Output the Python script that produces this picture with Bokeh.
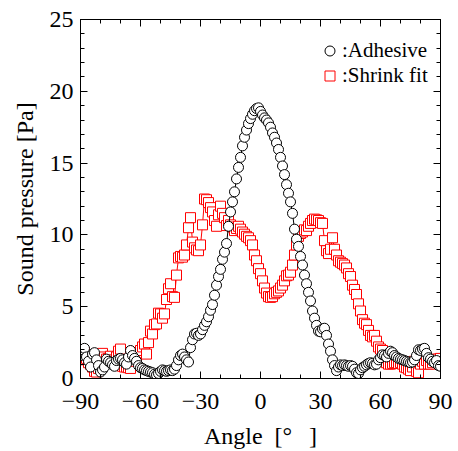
from bokeh.plotting import figure
from bokeh.models import FixedTicker, Legend, LegendItem, Range1d, LinearAxis, ColumnDataSource
from bokeh.embed import file_html
from bokeh.resources import INLINE

angles = list(range(-90, 91))

adhesive = [
    1.6, 2.0, 2.1, 1.5, 1.2, 0.8, 1.7, 1.8, 1.3, 0.9,      # -90..-81
    0.45, 0.6, 0.8, 1.35, 1.2, 1.1, 0.95, 0.85, 1.25, 1.35,  # -80..-71
    1.4, 1.3, 1.1, 1.0, 1.5, 1.95, 1.6, 1.4, 1.2, 0.9,     # -70..-61
    0.75, 0.7, 0.6, 0.55, 0.5, 0.45, 0.4, 0.3, 0.25, 0.35,  # -60..-51
    0.5, 0.6, 0.55, 0.5, 0.55, 0.6, 0.55, 0.65, 0.9, 1.3,   # -50..-41
    1.6, 1.7, 1.5, 1.3, 1.15, 2.15, 2.7, 3.1, 3.15, 3.0,    # -40..-31
    3.1, 3.4, 3.7, 3.95, 4.3, 4.75, 5.15, 5.8, 6.5, 7.1,    # -30..-21
    7.6, 8.3, 8.8, 9.4, 10.6, 11.6, 12.3, 13.0, 13.9, 14.7,  # -20..-11
    15.4, 16.2, 16.8, 17.3, 17.75, 18.1, 18.4, 18.65, 18.8, 18.85,  # -10..-1
    18.6,                                                  # 0
    18.35, 18.15, 18.0, 17.8, 17.5, 17.1, 16.8, 16.4, 15.95, 15.4,  # 1..10
    14.8, 14.2, 13.5, 12.9, 12.3, 11.5, 10.4, 9.7, 9.2, 8.5,  # 11..20
    7.9, 7.2, 6.6, 6.0, 5.4, 4.7, 4.2, 3.7, 3.3, 3.25,       # 21..30
    3.45, 3.5, 3.0, 2.4, 1.9, 1.3, 0.9, 0.55, 0.8, 0.95,     # 31..40
    0.9, 0.95, 0.9, 0.85, 0.9, 0.85, 0.65, 0.4, 0.35, 0.6,   # 41..50
    0.75, 0.85, 0.95, 1.05, 1.1, 1.05, 0.95, 1.0, 1.3, 1.45,  # 51..60
    1.65, 1.6, 1.5, 1.75, 1.9, 1.8, 1.6, 1.5, 1.4, 1.35,     # 61..70
    1.3, 1.25, 1.2, 1.15, 1.1, 1.15, 1.3, 1.6, 2.0, 1.95,    # 71..80
    2.05, 2.1, 1.75, 1.45, 1.35, 1.2, 1.1, 1.25, 0.9, 0.85,  # 81..90
]

shrink_fit = [
    2.0, 1.3, 1.8, 1.4, 1.1, 1.0, 0.8, 0.5, 0.45, 0.7,      # -90..-81
    1.2, 1.75, 1.5, 1.35, 1.4, 1.55, 1.3, 1.1, 1.5, 1.9,    # -80..-71
    2.05, 0.85, 0.8, 0.8, 0.75, 0.7, 1.2, 1.5, 1.6, 1.8,    # -70..-61
    1.95, 2.2, 2.4, 1.7, 2.5, 3.3, 3.1, 3.75, 3.8, 4.55,    # -60..-51
    4.5, 4.2, 4.5, 5.5, 6.25, 6.6, 5.7, 5.65, 7.2, 8.4,     # -50..-41
    8.5, 8.45, 8.6, 9.3, 10.5, 11.2, 9.5, 9.1, 8.95, 8.9,   # -40..-31
    9.3, 10.7, 12.5, 12.45, 12.25, 11.9, 11.6, 11.0, 10.6, 11.4,  # -30..-21
    12.0, 11.5, 11.2, 10.65, 11.0, 10.7, 10.55, 10.3, 10.45, 10.6,  # -20..-11
    10.4, 10.2, 10.05, 9.9, 9.8, 9.6, 9.3, 8.6, 8.2, 7.65,  # -10..-1
    7.3,                                                   # 0
    6.8, 6.3, 5.95, 5.7, 5.65, 5.7, 5.9, 6.0, 6.1, 6.3,     # 1..10
    6.5, 6.8, 7.15, 7.2, 7.4, 7.9, 8.6, 9.3, 9.9, 10.1,     # 11..20
    10.2, 10.35, 10.3, 10.6, 10.8, 11.0, 11.1, 11.05, 11.0, 10.85,  # 21..30
    10.8, 9.6, 8.9, 8.7, 9.0, 9.8, 9.0, 8.6, 8.2, 8.1,      # 31..40
    8.0, 7.9, 7.7, 7.3, 7.1, 6.5, 6.2, 5.85, 5.2, 4.7,      # 41..50
    4.1, 3.85, 3.75, 3.35, 3.0, 2.9, 3.0, 2.6, 2.2, 2.05,   # 51..60
    1.95, 1.6, 1.1, 1.0, 1.0, 1.05, 1.1, 1.1, 1.05, 1.1,    # 61..70
    1.0, 0.8, 0.75, 0.65, 0.55, 0.8, 1.2, 0.5, 0.4, 1.0,    # 71..80
    1.2, 1.0, 1.25, 1.0, 1.0, 1.1, 1.35, 1.3, 1.35, 1.4,    # 81..90
]

x_ticks = [-90, -60, -30, 0, 30, 60, 90]
x_tick_labels = ["\u221290", "\u221260", "\u221230", "0", "30", "60", "90"]
x_minor = list(range(-90, 91, 10))
y_ticks = [0, 5, 10, 15, 20, 25]
y_tick_labels = ["0", "5", "10", "15", "20", "25"]
y_minor = list(range(0, 26, 1))

FONT = "Liberation Serif"

p = figure(width=458, height=451, output_backend="svg", toolbar_location=None,
           x_range=Range1d(-90, 90), y_range=Range1d(0, 25),
           min_border_left=80, min_border_right=18, min_border_top=19, min_border_bottom=73,
           x_axis_label="Angle\u2002[\u00b0\u2002\u2009]", y_axis_label="Sound pressure [Pa]")
p.xgrid.visible = False
p.ygrid.visible = False
p.outline_line_color = "black"
p.background_fill_color = "white"
p.border_fill_color = "white"

src = ColumnDataSource(dict(angle=angles, adhesive=adhesive, shrink=shrink_fit))

p.line("angle", "shrink", source=src, line_color="red", line_width=1)
r_s = p.scatter("angle", "shrink", source=src, marker="square", size=10,
                line_color="red", fill_color="white", line_width=1)
p.line("angle", "adhesive", source=src, line_color="black", line_width=1)
r_a = p.scatter("angle", "adhesive", source=src, marker="circle", size=10,
                line_color="black", fill_color="white", line_width=1)


def base_style(ax):
    ax.axis_line_color = "black"
    ax.axis_line_width = 1
    ax.major_tick_line_color = "black"
    ax.minor_tick_line_color = "black"
    ax.major_tick_out = 0
    ax.minor_tick_out = 0
    ax.major_label_text_font = FONT
    ax.major_label_text_color = "black"
    ax.major_label_text_font_size = "24px"
    ax.axis_label_text_font = FONT
    ax.axis_label_text_font_style = "normal"
    ax.axis_label_text_color = "black"
    ax.axis_label_text_font_size = "24px"


def labelled_axis(ax, ticks, minor, labels):
    base_style(ax)
    ax.ticker = FixedTicker(ticks=ticks, minor_ticks=minor)
    ax.major_tick_in = 7
    ax.minor_tick_in = 4
    ax.major_label_overrides = dict(zip(ticks, labels))


def mirror_axes(ticks, minor, side):
    # ticks only, no labels: short marks as minor ticks, long marks on a second axis
    short = LinearAxis(ticker=FixedTicker(ticks=[], minor_ticks=[m for m in minor if m not in ticks]))
    long_ = LinearAxis(ticker=FixedTicker(ticks=[], minor_ticks=ticks))
    for ax, ln in ((short, 4), (long_, 7)):
        base_style(ax)
        ax.minor_tick_in = ln
        ax.major_tick_in = 0
        ax.major_label_standoff = 0
        ax.axis_label_standoff = 0
        p.add_layout(ax, side)


xa = p.xaxis[0]
ya = p.yaxis[0]
labelled_axis(xa, x_ticks, x_minor, x_tick_labels)
labelled_axis(ya, y_ticks, y_minor, y_tick_labels)
xa.major_label_standoff = 15
xa.axis_label_standoff = 11
ya.major_label_standoff = 7
ya.axis_label_standoff = 9

mirror_axes(x_ticks, x_minor, "above")
mirror_axes(y_ticks, y_minor, "right")

legend = Legend(items=[LegendItem(label=":Adhesive", renderers=[r_a]),
                       LegendItem(label=":Shrink fit", renderers=[r_s])],
                location=(237, 289.8), padding=0, spacing=0,
                glyph_width=25, glyph_height=25, label_height=25, label_standoff=0,
                label_text_font=FONT, label_text_font_size="21px", label_text_color="black",
                border_line_alpha=0, background_fill_alpha=0)
p.add_layout(legend)

open("out.html", "w").write(file_html(p, INLINE))
